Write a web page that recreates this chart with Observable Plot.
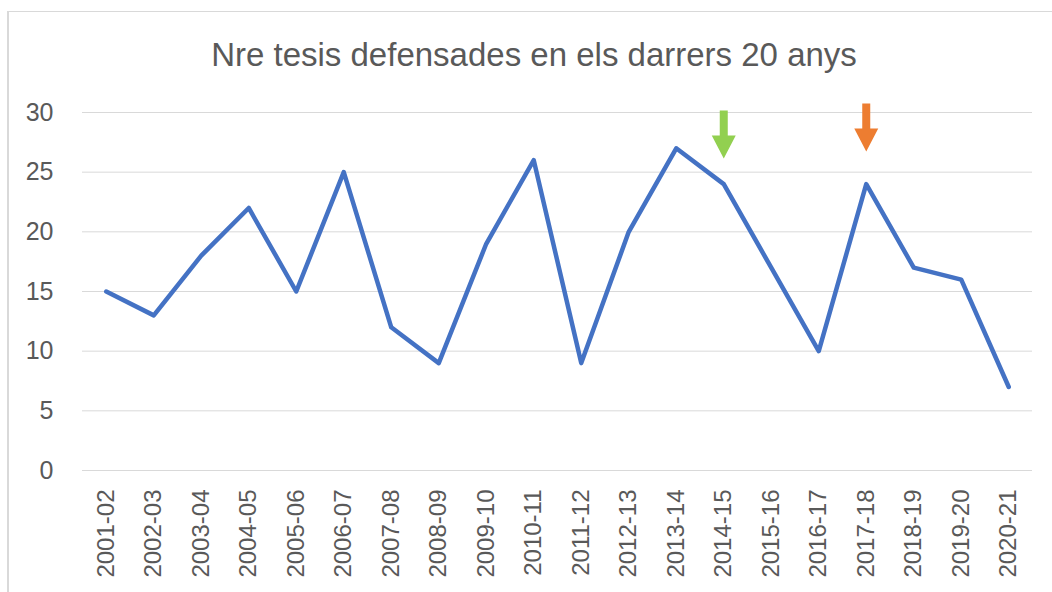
<!DOCTYPE html>
<html>
<head>
<meta charset="utf-8">
<script src="https://cdn.jsdelivr.net/npm/d3@7"></script>
<script src="https://cdn.jsdelivr.net/npm/@observablehq/plot@0.6"></script>
<style>
  html, body { margin: 0; padding: 0; background: #fff; overflow: hidden; }
  #wrap { position: relative; width: 1052px; height: 592px; overflow: hidden; font-family: "Liberation Sans", Arial, sans-serif; }
  #frame { position: absolute; left: 7px; top: 11px; width: 1100px; height: 700px; border-left: 2px solid #D9D9D9; border-top: 1px solid #D9D9D9; box-sizing: border-box; }
  #titlebox { position: relative; height: 85px; }
  #title { position: absolute; left: 534px; top: 38px; transform: translateX(-50%); font-size: 33px; line-height: 33px; color: #595959; white-space: nowrap; }
  #chart { position: relative; }
</style>
</head>
<body>
<div id="wrap">
  <div id="frame"></div>
  <div id="titlebox"><div id="title">Nre tesis defensades en els darrers 20 anys</div></div>
  <div id="chart"></div>
</div>
<script>
const years = ["2001-02","2002-03","2003-04","2004-05","2005-06","2006-07","2007-08","2008-09","2009-10","2010-11","2011-12","2012-13","2013-14","2014-15","2015-16","2016-17","2017-18","2018-19","2019-20","2020-21"];
const theses = [15,13,18,22,15,25,12,9,19,26,9,20,27,24,17,10,24,17,16,7];
const yTicks = [0,5,10,15,20,25,30];

// annotation arrows (category, value at top of arrow shaft, colour)
const arrowCats = ["2014-15", "2017-18"];
const arrowTops = [30.17, 30.76];
const arrowColors = ["#92D050", "#ED7D31"];

const data = years.map((y, i) => ({year: y, value: theses[i]}));
const arrows = arrowCats.map((c, i) => ({year: c, top: arrowTops[i], color: arrowColors[i]}));

const arrowShape = {
  draw(ctx, l) {
    const hw = 12, hh = 23, sw = 4;
    ctx.moveTo(-sw, 0);
    ctx.lineTo(-sw, -(l - hh));
    ctx.lineTo(-hw, -(l - hh));
    ctx.lineTo(0, -l);
    ctx.lineTo(hw, -(l - hh));
    ctx.lineTo(sw, -(l - hh));
    ctx.lineTo(sw, 0);
    ctx.closePath();
  }
};

const chart = Plot.plot({
  width: 1052,
  height: 507,
  marginTop: 27,
  marginBottom: 122,
  marginLeft: 82,
  marginRight: 20,
  style: {fontFamily: "'Liberation Sans', Arial, sans-serif", fontSize: "24px", color: "#595959", background: "transparent"},
  x: {type: "point", domain: years, padding: 0.5, round: false, label: null},
  y: {domain: [0, 30], label: null},
  marks: [
    Plot.gridY(yTicks, {stroke: "#D9D9D9", strokeOpacity: 1, strokeWidth: 1}),
    Plot.axisY(yTicks, {tickSize: 0, tickPadding: 29, fontSize: 25, label: null, fill: "#595959"}),
    Plot.axisX({tickSize: 0, tickPadding: 19, tickRotate: -90, fontSize: 24, label: null, fill: "#595959"}),
    Plot.line(data, {x: "year", y: "value", stroke: "#4472C4", strokeWidth: 4.5, strokeLinejoin: "round", strokeLinecap: "round"}),
    Plot.vector(arrows, {x: "year", y: "top", length: 48, rotate: 180, anchor: "start", shape: arrowShape, fill: "color", stroke: "none"})
  ]
});
document.getElementById("chart").appendChild(chart);
</script>
</body>
</html>
